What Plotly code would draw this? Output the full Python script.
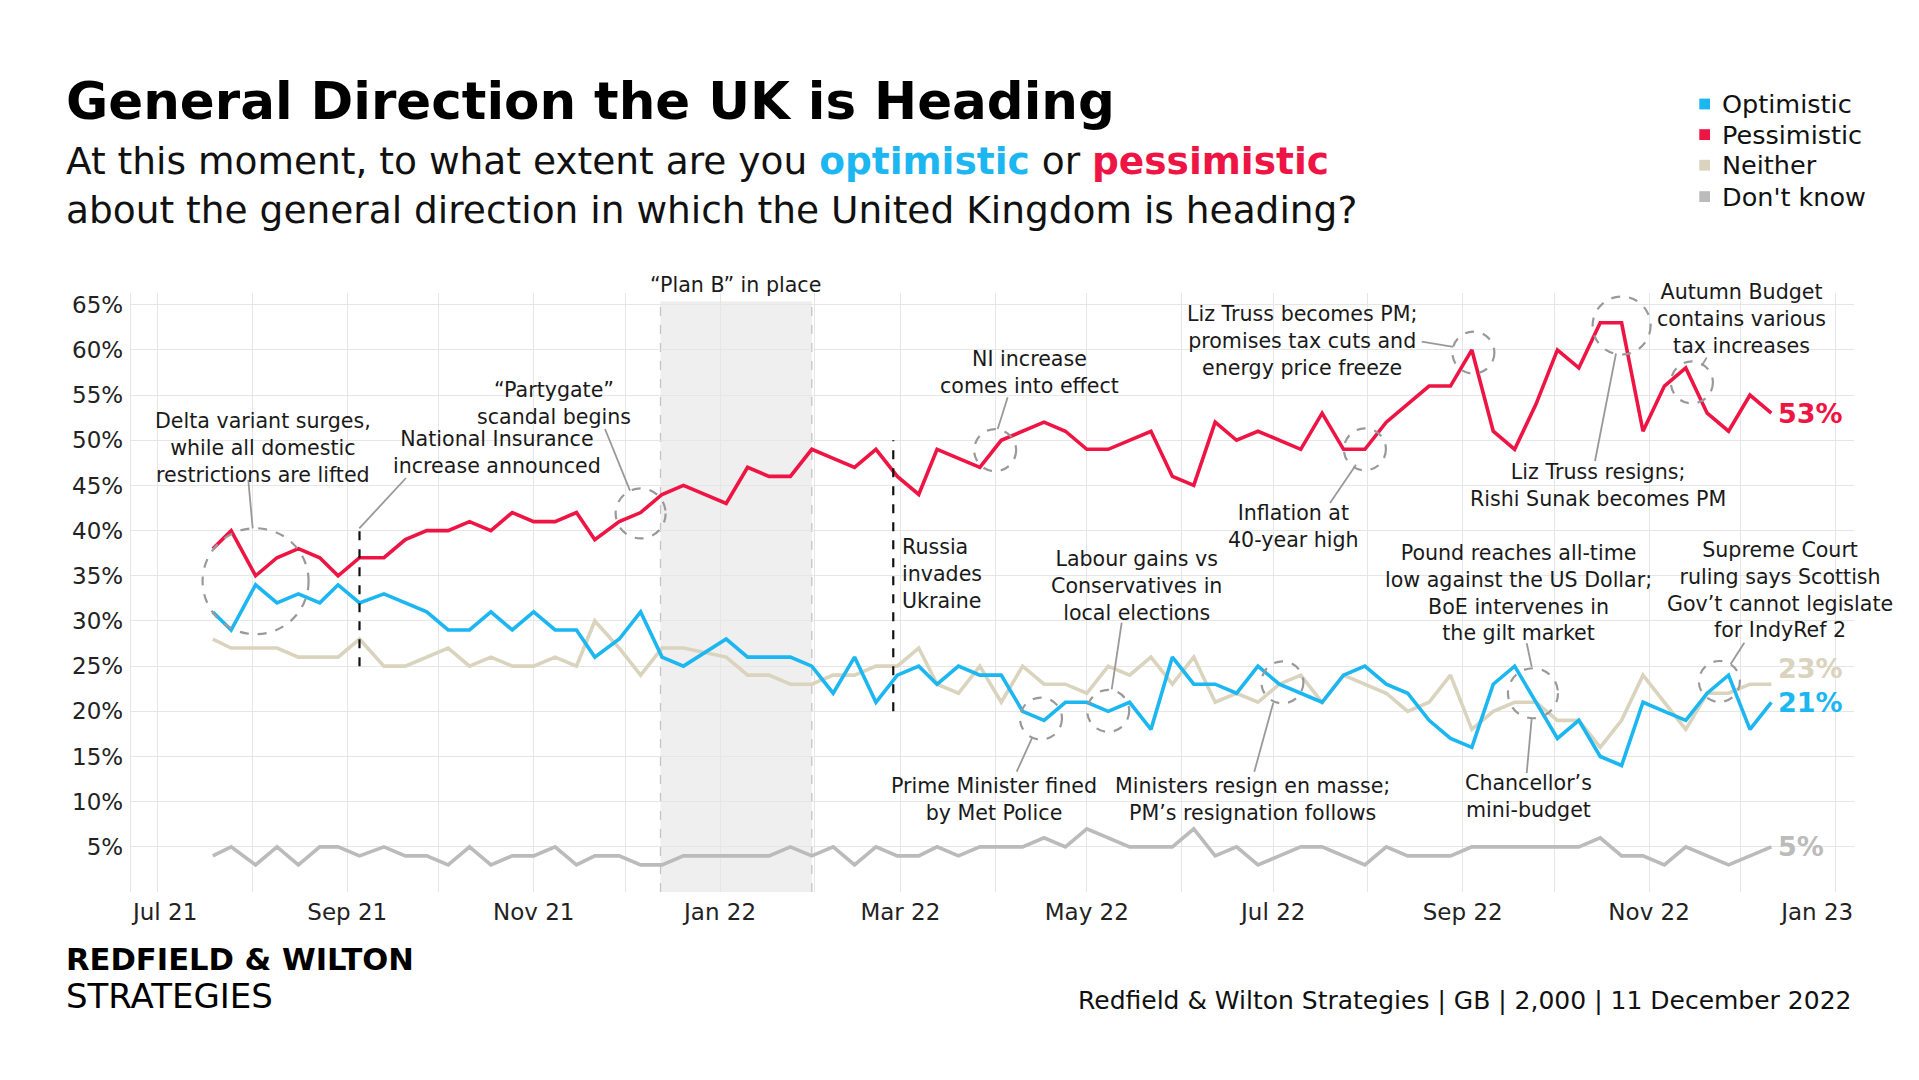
import plotly.graph_objects as go

# ---------------- data ----------------
dates = [
    "2021-07-19", "2021-07-25", "2021-08-02", "2021-08-09", "2021-08-16", "2021-08-23", "2021-08-29",
    "2021-09-05", "2021-09-13", "2021-09-20", "2021-09-27", "2021-10-04", "2021-10-11", "2021-10-18",
    "2021-10-25", "2021-11-01", "2021-11-08", "2021-11-15", "2021-11-21", "2021-11-29", "2021-12-06",
    "2021-12-13", "2021-12-20",
    "2022-01-03", "2022-01-10", "2022-01-17", "2022-01-24", "2022-01-31", "2022-02-07", "2022-02-14",
    "2022-02-21", "2022-02-28", "2022-03-07", "2022-03-13", "2022-03-20", "2022-03-27", "2022-04-03",
    "2022-04-10", "2022-04-17", "2022-04-24", "2022-05-01", "2022-05-08", "2022-05-15", "2022-05-22",
    "2022-05-29", "2022-06-05", "2022-06-12", "2022-06-19", "2022-06-26", "2022-07-03", "2022-07-10",
    "2022-07-17", "2022-07-24", "2022-07-31", "2022-08-07", "2022-08-14", "2022-08-21", "2022-08-28",
    "2022-09-04", "2022-09-11", "2022-09-18", "2022-09-25", "2022-10-02", "2022-10-09", "2022-10-16",
    "2022-10-23", "2022-10-30", "2022-11-06", "2022-11-13", "2022-11-20", "2022-11-27", "2022-12-04",
    "2022-12-11",
]

optimistic = [
    31, 29, 34, 32, 33, 32, 34,
    32, 33, 32, 31, 29, 29, 31,
    29, 31, 29, 29, 26, 28, 31,
    26, 25,
    28, 26, 26, 26, 25, 22, 26,
    21, 24, 25, 23, 25, 24, 24,
    20, 19, 21, 21, 20, 21, 18,
    26, 23, 23, 22, 25, 23, 22,
    21, 24, 25, 23, 22, 19, 17,
    16, 23, 25, 21, 17, 19, 15,
    14, 21, 20, 19, 22, 24, 18,
    21,
]

pessimistic = [
    38, 40, 35, 37, 38, 37, 35,
    37, 37, 39, 40, 40, 41, 40,
    42, 41, 41, 42, 39, 41, 42,
    44, 45,
    43, 47, 46, 46, 49, 48, 47,
    49, 46, 44, 49, 48, 47, 50,
    51, 52, 51, 49, 49, 50, 51,
    46, 45, 52, 50, 51, 50, 49,
    53, 49, 49, 52, 54, 56, 56,
    60, 51, 49, 54, 60, 58, 63,
    63, 51, 56, 58, 53, 51, 55,
    53,
]

neither = [
    28, 27, 27, 27, 26, 26, 26,
    28, 25, 25, 26, 27, 25, 26,
    25, 25, 26, 25, 30, 27, 24,
    27, 27,
    26, 24, 24, 23, 23, 24, 24,
    25, 25, 27, 23, 22, 25, 21,
    25, 23, 23, 22, 25, 24, 26,
    23, 26, 21, 22, 21, 23, 24,
    21, 24, 23, 22, 20, 21, 24,
    18, 20, 21, 21, 19, 19, 16,
    19, 24, 21, 18, 22, 22, 23,
    23,
]

dont_know = [
    4, 5, 3, 5, 3, 5, 5,
    4, 5, 4, 4, 3, 5, 3,
    4, 4, 5, 3, 4, 4, 3,
    3, 4,
    4, 4, 4, 5, 4, 5, 3,
    5, 4, 4, 5, 4, 5, 5,
    5, 6, 5, 7, 6, 5, 5,
    5, 7, 4, 5, 3, 4, 5,
    5, 4, 3, 5, 4, 4, 4,
    5, 5, 5, 5, 5, 5, 6,
    4, 4, 3, 5, 4, 3, 4,
    5,
]

series_names = ["Optimistic", "Pessimistic", "Neither", "Don't know"]

x_tick_vals = ["2021-07-01", "2021-09-01", "2021-11-01", "2022-01-01", "2022-03-01",
               "2022-05-01", "2022-07-01", "2022-09-01", "2022-11-01", "2023-01-01"]
x_tick_text = ["Jul 21", "Sep 21", "Nov 21", "Jan 22", "Mar 22",
               "May 22", "Jul 22", "Sep 22", "Nov 22", "Jan 23"]
y_tick_vals = [0, 5, 10, 15, 20, 25, 30, 35, 40, 45, 50, 55, 60, 65]
y_tick_text = [""] + [f"{v}%" for v in y_tick_vals[1:]]

# ---------------- styling ----------------
BLUE = "#1CB6F1"
RED = "#EE1443"
BEIGE = "#DAD3BD"
GREY = "#BBBBBB"
TXT = "#1a1a1a"
FONT = "DejaVu Sans"
ANN = 20.6
colors = {"Optimistic": BLUE, "Pessimistic": RED, "Neither": BEIGE, "Don't know": GREY}
values = {"Optimistic": optimistic, "Pessimistic": pessimistic,
          "Neither": neither, "Don't know": dont_know}

W, H = 1903, 1064
ML, MR, MT, MB = 123, 57, 285, 180
PW = W - ML - MR
PH = H - MT - MB
OFF = 8  # page offset (body margin)


def PX(x):
    """reference pixel x -> paper x"""
    return (x - OFF - ML) / PW


def PY(y):
    """reference pixel y -> paper y"""
    return (H - MB - (y - OFF)) / PH


fig = go.Figure()

for name in ["Don't know", "Neither", "Optimistic", "Pessimistic"]:
    fig.add_trace(go.Scatter(
        x=dates, y=values[name], mode="lines", name=name,
        line=dict(color=colors[name], width=3.6),
        showlegend=False, hoverinfo="skip",
    ))

shapes = []
annotations = []

# Plan B shading
shapes.append(dict(type="rect", xref="x", yref="y", x0="2021-12-12 12:00", x1="2022-01-31",
                   y0=0, y1=65.4, fillcolor="#EFEFEF", line=dict(width=0), layer="below"))
for xv in ["2021-12-12 12:00", "2022-01-31"]:
    shapes.append(dict(type="line", xref="x", yref="y", x0=xv, x1=xv, y0=0, y1=65.4,
                       line=dict(color="#C4C4C4", width=1.3, dash="dash"), layer="below"))

# black dashed event lines
shapes.append(dict(type="line", xref="x", yref="y", x0="2021-09-05", x1="2021-09-05",
                   y0=25, y1=40.2, line=dict(color="#111", width=2.2, dash="dash")))
shapes.append(dict(type="line", xref="x", yref="y", x0="2022-02-26 16:00", x1="2022-02-26 16:00",
                   y0=20, y1=50, line=dict(color="#111", width=2.2, dash="dash")))

# dashed circles (center date, value, radius px)
circles = [
    ("2021-08-02", 34.4, 53),
    ("2021-12-06", 41.9, 25),
    ("2022-04-01", 48.9, 21),
    ("2022-04-16", 19.2, 21),
    ("2022-05-08", 20.05, 21),
    ("2022-07-04", 23.2, 21),
    ("2022-07-31", 49.0, 21),
    ("2022-09-04 12:00", 59.7, 21),
    ("2022-09-24", 22.0, 25),
    ("2022-10-23", 62.7, 29),
    ("2022-11-15", 56.4, 21),
    ("2022-11-24", 23.3, 20.5),
]
for cx, cy, r in circles:
    shapes.append(dict(type="circle", xref="x", yref="y", xsizemode="pixel", ysizemode="pixel",
                       xanchor=cx, yanchor=cy, x0=-r, x1=r, y0=-r, y1=r,
                       line=dict(color="#999999", width=2.2, dash="dash")))

# leader lines (reference pixel coords)
leaders = [
    ((252.7, 528.4), (248.3, 480.0)),
    ((359.3, 528.4), (406.0, 478.0)),
    ((630.0, 490.6), (605.0, 429.0)),
    ((997.7, 429.0), (1007.7, 397.2)),
    ((1032.3, 737.3), (1016.7, 771.7)),
    ((1111.7, 689.3), (1121.7, 622.7)),
    ((1273.3, 702.7), (1254.3, 771.7)),
    ((1453.3, 346.8), (1421.7, 341.6)),
    ((1356.0, 464.8), (1330.0, 503.0)),
    ((1616.0, 353.5), (1595.0, 461.0)),
    ((1701.7, 365.8), (1706.7, 357.6)),
    ((1531.7, 666.7), (1526.7, 643.3)),
    ((1531.7, 718.3), (1526.7, 773.0)),
    ((1730.7, 664.0), (1744.3, 642.7)),
]
for (x0, y0), (x1, y1) in leaders:
    shapes.append(dict(type="line", xref="paper", yref="paper",
                       x0=PX(x0), y0=PY(y0), x1=PX(x1), y1=PY(y1),
                       line=dict(color="#999999", width=1.8)))


def text(x, y, t, size=ANN, anchor="center", color=TXT, bold=False):
    if bold:
        t = f"<b>{t}</b>"
    annotations.append(dict(xref="paper", yref="paper", x=PX(x), y=PY(y), text=t,
                            showarrow=False, xanchor=anchor, yanchor="middle",
                            align=anchor,
                            font=dict(family=FONT, size=size, color=color)))


def block(x, yc, lines, size=ANN, anchor="center"):
    text(x, yc, "<br>".join(lines), size=size, anchor=anchor)


block(263, 448, ["Delta variant surges,", "while all domestic", "restrictions are lifted"])
block(497, 452.5, ["National Insurance", "increase announced"])
block(553.5, 403, ["“Partygate”", "scandal begins"])
block(735, 285, ["“Plan B” in place"])
block(1029, 372.7, ["NI increase", "comes into effect"])
block(900, 574, ["Russia", "invades", "Ukraine"], anchor="left")
block(1136, 585.5, ["Labour gains vs", "Conservatives in", "local elections"])
block(1301.7, 340.7, ["Liz Truss becomes PM;", "promises tax cuts and", "energy price freeze"])
block(1293.3, 526.5, ["Inflation at", "40-year high"])
block(1598, 485.2, ["Liz Truss resigns;", "Rishi Sunak becomes PM"])
block(1741.7, 319.4, ["Autumn Budget", "contains various", "tax increases"])
block(1518.3, 592.7, ["Pound reaches all-time", "low against the US Dollar;",
                      "BoE intervenes in", "the gilt market"])
block(1779.7, 590, ["Supreme Court", "ruling says Scottish",
                    "Gov’t cannot legislate", "for IndyRef 2"])
block(993.7, 799, ["Prime Minister fined", "by Met Police"])
block(1252, 799, ["Ministers resign en masse;", "PM’s resignation follows"])
block(1528.7, 796.7, ["Chancellor’s", "mini-budget"])

# end-of-line value labels
for name, yshift in [("Pessimistic", 0), ("Neither", 16), ("Optimistic", 0), ("Don't know", 0)]:
    annotations.append(dict(xref="x", yref="y", x=dates[-1], y=values[name][-1],
                            text=f"<b>{values[name][-1]}%</b>", showarrow=False,
                            xanchor="left", yanchor="middle", xshift=5, yshift=yshift,
                            font=dict(family=FONT, size=27, color=colors[name])))

# title, subtitle
text(64, 101.5, "General Direction the UK is Heading", size=51.5, anchor="left", color="#000", bold=True)
annotations.append(dict(
    xref="paper", yref="paper", x=PX(64), y=PY(185), xanchor="left", yanchor="middle",
    showarrow=False, align="left",
    text=("At this moment, to what extent are you "
          f"<b><span style='color:{BLUE}'>optimistic</span></b> or "
          f"<b><span style='color:{RED}'>pessimistic</span></b><br>"
          "about the general direction in which the United Kingdom is heading?"),
    font=dict(family=FONT, size=37.5, color="#111")))

# legend (square swatches)
legend_y = [104.0, 134.6, 165.2, 196.6]
for name, ly in zip(series_names, legend_y):
    shapes.append(dict(type="rect", xref="paper", yref="paper",
                       x0=PX(1699.3), x1=PX(1710), y0=PY(ly - 5.4), y1=PY(ly + 5.4),
                       fillcolor=colors[name], line=dict(width=0)))
    text(1720, ly, name, size=25.5, anchor="left", color="#111")

# footer
text(64, 959.5, "REDFIELD & WILTON", size=30.6, anchor="left", color="#000", bold=True)
text(64, 996, "STRATEGIES", size=34, anchor="left", color="#000")
text(1853, 1000, "Redfield & Wilton Strategies | GB | 2,000 | 11 December 2022",
     size=25, anchor="right", color="#111")

NBSP = "\u00a0"
tick_text_shown = list(x_tick_text)
tick_text_shown[0] = NBSP * 2 + tick_text_shown[0]
tick_text_shown[-1] = tick_text_shown[-1] + NBSP * 5

fig.update_layout(
    width=W, height=H,
    margin=dict(l=ML, r=MR, t=MT, b=MB, pad=0),
    plot_bgcolor="white", paper_bgcolor="white",
    font=dict(family=FONT, color=TXT),
    showlegend=False,
    shapes=shapes, annotations=annotations,
    xaxis=dict(type="date", range=["2021-06-22 05:30", "2023-01-07 01:10"],
               tickvals=x_tick_vals, ticktext=tick_text_shown,
               showgrid=True, gridcolor="#E6E6E6", gridwidth=1.4,
               minor=dict(dtick="M1", tick0="2021-07-01", showgrid=True,
                          gridcolor="#E6E6E6", gridwidth=1.4),
               zeroline=False, showline=False, ticks="", ticklabelstandoff=4,
               tickfont=dict(family=FONT, size=23, color="#222")),
    yaxis=dict(range=[0, 66.3], tickvals=y_tick_vals, ticktext=y_tick_text,
               showgrid=True, gridcolor="#E6E6E6", gridwidth=1.4,
               zeroline=False, showline=True, linecolor="#E6E6E6", linewidth=1.4,
               ticks="", ticklabelstandoff=2,
               tickfont=dict(family=FONT, size=23, color="#222")),
)

fig.write_html("out.html")
